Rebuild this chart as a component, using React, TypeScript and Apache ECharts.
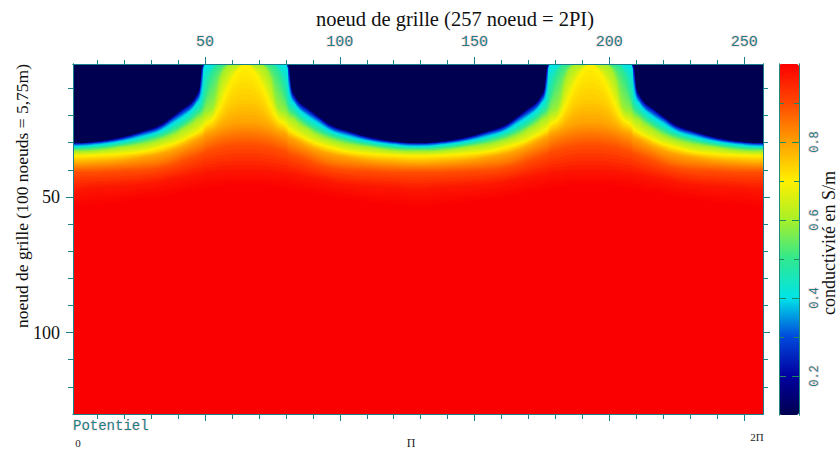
import React, { useEffect, useRef } from "react";
import * as echarts from "echarts";

const nodeColumns = [1,10,19,27,33,38,42,45,47,48,49,50,53,56,59,62,65,68,71,74,77,80,81,82,83,85,88,92,97,103,111,120,129,138,147,155,161,166,170,173,175,176,177,178,181,184,187,190,193,196,199,202,205,208,209,210,211,213,216,220,225,231,239,248,257];

const iso015 = [30.3,29.5,28.0,25.8,23.6,20.3,17.3,15.1,12.1,9.9,1,1,1,1,1,1,1,1,1,1,1,1,1,9.9,12.1,15.1,17.3,20.3,23.6,25.8,28.0,29.5,30.3,29.5,28.0,25.8,23.6,20.3,17.3,15.1,12.1,9.9,1,1,1,1,1,1,1,1,1,1,1,1,1,9.9,12.1,15.1,17.3,20.3,23.6,25.8,28.0,29.5,30.3];
const iso025 = [30.4,29.9,28.4,26.2,24.3,21.0,18.0,15.8,13.2,11.0,3.2,1,1,1,1,1,1,1,1,1,1,1,3.2,11.0,13.2,15.8,18.0,21.0,24.3,26.2,28.4,29.9,30.4,29.9,28.4,26.2,24.3,21.0,18.0,15.8,13.2,11.0,3.2,1,1,1,1,1,1,1,1,1,1,1,3.2,11.0,13.2,15.8,18.0,21.0,24.3,26.2,28.4,29.9,30.4];
const iso030 = [30.6,30.1,28.8,26.6,24.7,21.4,18.8,16.6,14.0,12.1,5.4,1,1,1,1,1,1,1,1,1,1,1,5.4,12.1,14.0,16.6,18.8,21.4,24.7,26.6,28.8,30.1,30.6,30.1,28.8,26.6,24.7,21.4,18.8,16.6,14.0,12.1,5.4,1,1,1,1,1,1,1,1,1,1,1,5.4,12.1,14.0,16.6,18.8,21.4,24.7,26.6,28.8,30.1,30.6];
const iso035 = [31.0,30.4,29.1,27.1,25.3,22.1,19.5,17.3,14.7,12.9,7.7,1,1,1,1,1,1,1,1,1,1,1,7.7,12.9,14.7,17.3,19.5,22.1,25.3,27.1,29.1,30.4,31.0,30.4,29.1,27.1,25.3,22.1,19.5,17.3,14.7,12.9,7.7,1,1,1,1,1,1,1,1,1,1,1,7.7,12.9,14.7,17.3,19.5,22.1,25.3,27.1,29.1,30.4,31.0];
const iso040 = [31.4,30.8,29.5,27.7,25.8,22.9,20.3,18.0,15.4,14.3,10.6,1,1,1,1,1,1,1,1,1,1,1,10.6,14.3,15.4,18.0,20.3,22.9,25.8,27.7,29.5,30.8,31.4,30.8,29.5,27.7,25.8,22.9,20.3,18.0,15.4,14.3,10.6,1,1,1,1,1,1,1,1,1,1,1,10.6,14.3,15.4,18.0,20.3,22.9,25.8,27.7,29.5,30.8,31.4];
const iso050 = [32.1,31.7,30.6,28.9,27.3,25.1,22.9,20.6,18.8,18.0,16.6,12.9,3.2,1,1,1,1,1,1,1,3.2,12.9,16.6,18.0,18.8,20.6,22.9,25.1,27.3,28.9,30.6,31.7,32.1,31.7,30.6,28.9,27.3,25.1,22.9,20.6,18.8,18.0,16.6,12.9,3.2,1,1,1,1,1,1,1,3.2,12.9,16.6,18.0,18.8,20.6,22.9,25.1,27.3,28.9,30.6,31.7,32.1];
const iso060 = [33.2,32.9,31.7,30.6,29.1,27.3,24.9,23.2,21.4,21.0,20.3,19.1,16.9,5.4,1,1,1,1,1,5.4,16.9,19.1,20.3,21.0,21.4,23.2,24.9,27.3,29.1,30.6,31.7,32.9,33.2,32.9,31.7,30.6,29.1,27.3,24.9,23.2,21.4,21.0,20.3,19.1,16.9,5.4,1,1,1,1,1,5.4,16.9,19.1,20.3,21.0,21.4,23.2,24.9,27.3,29.1,30.6,31.7,32.9,33.2];
const iso070 = [34.7,34.5,34.0,33.2,31.7,30.3,28.8,27.3,26.2,25.4,24.7,23.2,21.0,15.4,8.4,3.2,1,3.2,8.4,15.4,21.0,23.2,24.7,25.4,26.2,27.3,28.8,30.3,31.7,33.2,34.0,34.5,34.7,34.5,34.0,33.2,31.7,30.3,28.8,27.3,26.2,25.4,24.7,23.2,21.0,15.4,8.4,3.2,1,3.2,8.4,15.4,21.0,23.2,24.7,25.4,26.2,27.3,28.8,30.3,31.7,33.2,34.0,34.5,34.7];
const iso075 = [36.2,35.8,35.3,34.3,33.2,31.6,29.9,28.4,27.5,26.9,26.6,25.1,23.6,20.3,16.6,14.7,14.3,14.7,16.6,20.3,23.6,25.1,26.6,26.9,27.5,28.4,29.9,31.6,33.2,34.3,35.3,35.8,36.2,35.8,35.3,34.3,33.2,31.6,29.9,28.4,27.5,26.9,26.6,25.1,23.6,20.3,16.6,14.7,14.3,14.7,16.6,20.3,23.6,25.1,26.6,26.9,27.5,28.4,29.9,31.6,33.2,34.3,35.3,35.8,36.2];
const iso080 = [37.7,37.3,36.6,35.4,34.3,32.9,31.4,29.9,28.8,28.4,28.0,26.9,25.8,24.3,23.2,22.5,22.5,22.5,23.2,24.3,25.8,26.9,28.0,28.4,28.8,29.9,31.4,32.9,34.3,35.4,36.6,37.3,37.7,37.3,36.6,35.4,34.3,32.9,31.4,29.9,28.8,28.4,28.0,26.9,25.8,24.3,23.2,22.5,22.5,22.5,23.2,24.3,25.8,26.9,28.0,28.4,28.8,29.9,31.4,32.9,34.3,35.4,36.6,37.3,37.7];
const iso085 = [39.3,39.1,38.6,38.0,37.3,35.8,34.0,32.9,32.1,31.7,31.4,30.3,29.1,28.0,27.3,26.9,26.6,26.9,27.3,28.0,29.1,30.3,31.4,31.7,32.1,32.9,34.0,35.8,37.3,38.0,38.6,39.1,39.3,39.1,38.6,38.0,37.3,35.8,34.0,32.9,32.1,31.7,31.4,30.3,29.1,28.0,27.3,26.9,26.6,26.9,27.3,28.0,29.1,30.3,31.4,31.7,32.1,32.9,34.0,35.8,37.3,38.0,38.6,39.1,39.3];
const iso090 = [41.0,41.0,40.6,40.3,39.5,38.4,36.9,35.8,35.1,34.7,34.3,33.6,32.9,31.9,31.4,31.0,31.0,31.0,31.4,31.9,32.9,33.6,34.3,34.7,35.1,35.8,36.9,38.4,39.5,40.3,40.6,41.0,41.0,41.0,40.6,40.3,39.5,38.4,36.9,35.8,35.1,34.7,34.3,33.6,32.9,31.9,31.4,31.0,31.0,31.0,31.4,31.9,32.9,33.6,34.3,34.7,35.1,35.8,36.9,38.4,39.5,40.3,40.6,41.0,41.0];
const iso097 = [46.9,46.2,45.8,45.1,44.3,43.2,42.5,41.7,41.4,41.2,41.0,40.6,40.3,39.9,39.7,39.5,39.5,39.5,39.7,39.9,40.3,40.6,41.0,41.2,41.4,41.7,42.5,43.2,44.3,45.1,45.8,46.2,46.9,46.2,45.8,45.1,44.3,43.2,42.5,41.7,41.4,41.2,41.0,40.6,40.3,39.9,39.7,39.5,39.5,39.5,39.7,39.9,40.3,40.6,41.0,41.2,41.4,41.7,42.5,43.2,44.3,45.1,45.8,46.2,46.9];
const iso100 = [53.2,52.5,51.7,50.6,49.9,48.8,48.0,47.7,47.3,47.1,46.9,46.6,46.2,45.8,45.4,45.4,45.4,45.4,45.4,45.8,46.2,46.6,46.9,47.1,47.3,47.7,48.0,48.8,49.9,50.6,51.7,52.5,53.2,52.5,51.7,50.6,49.9,48.8,48.0,47.7,47.3,47.1,46.9,46.6,46.2,45.8,45.4,45.4,45.4,45.4,45.4,45.8,46.2,46.6,46.9,47.1,47.3,47.7,48.0,48.8,49.9,50.6,51.7,52.5,53.2];

const isoLevels = [0.15, 0.25, 0.3, 0.35, 0.4, 0.5, 0.6, 0.7, 0.75, 0.8, 0.85, 0.9, 0.97, 1];
const isoDepths = [iso015, iso025, iso030, iso035, iso040, iso050, iso060, iso070, iso075, iso080, iso085, iso090, iso097, iso100];

const jetStops = ["#000050", "#0000a0", "#0048dc", "#00e4e8", "#30e890", "#a8f028", "#fff000", "#ffa000", "#ff4800", "#fb0000"];
const topTicksMajor = [50, 100, 150, 200, 250];
const topTicksMinor = [10, 20, 30, 40, 60, 70, 80, 90, 110, 120, 130, 140, 160, 170, 180, 190, 210, 220, 230, 240];
const sideTicksMajor = [50, 100];
const sideTicksMinor = [10, 20, 30, 40, 60, 70, 80, 90, 110, 120];
const barTicksMajor = [0.2, 0.4, 0.6, 0.8];
const barTicksMinor = [0.3, 0.5, 0.7, 0.9];

const TEAL = "#17808a";
const SERIF = '"Liberation Serif", serif';
const MONO = '"Liberation Mono", monospace';
const V_MIN = 0.1;
const V_MAX = 1;
const D_MAX = 130;
const SUB = 6;

const colorAt = (v: number) => echarts.color.lerp((v - V_MIN) / (V_MAX - V_MIN), jetStops) as string;

const axisStyle = { lineStyle: { color: TEAL, width: 1 } };
const tealLabel = {
  color: "#178088",
  fontFamily: MONO,
  textBorderColor: "rgba(255,190,190,0.55)",
  textBorderWidth: 1.5,
};

function plotAxis(position: string, customValues: number[], length: number, extra: any = {}) {
  const horizontal = position === "top" || position === "bottom";
  return {
    type: "value",
    gridIndex: 0,
    position,
    min: 1,
    max: horizontal ? 257 : D_MAX,
    inverse: !horizontal,
    z: 5,
    splitLine: { show: false },
    axisLine: { show: true, onZero: false, ...axisStyle },
    axisTick: { show: true, inside: false, length, customValues, ...axisStyle },
    axisLabel: { show: false },
    ...extra,
  };
}

function barAxis(position: string, customValues: number[], length: number, extra: any = {}) {
  return {
    type: "value",
    gridIndex: 1,
    position,
    min: V_MIN,
    max: V_MAX,
    z: 6,
    splitLine: { show: false },
    axisLine: { show: true, onZero: false, lineStyle: { color: "#1f8a80", width: 1 } },
    axisTick: { show: true, inside: true, length, customValues, lineStyle: { color: "#1f8a60", width: 1 } },
    axisLabel: { show: false },
    ...extra,
  };
}

export default function App() {
  const ref = useRef<HTMLDivElement>(null);
  useEffect(() => {
    const chart = echarts.init(ref.current!, null, { renderer: "svg" });
    const renderItem = (_p: any, api: any) => {
      const index = api.value(1);
      const depths = isoDepths[index];
      const prevDepths = index > 0 ? isoDepths[index - 1] : depths;
      const level = isoLevels[index];
      const prevLevel = index > 0 ? isoLevels[index - 1] : level;
      const steps = index > 0 ? SUB : 1;
      const children: any[] = [];
      for (let k = 1; k <= steps; k++) {
        const t = k / steps;
        const line = nodeColumns.map((col, c) => [col, prevDepths[c] + (depths[c] - prevDepths[c]) * t]);
        const first = line[0];
        const last = line[line.length - 1];
        const outline = [
          [-30, first[1]],
          ...line,
          [287, last[1]],
          [287, D_MAX + 30],
          [-30, D_MAX + 30],
        ];
        children.push({
          type: "polygon",
          shape: { points: outline.map((p) => api.coord(p)), smooth: 0.4 },
          style: { fill: colorAt(prevLevel + (level - prevLevel) * t), stroke: null },
        });
      }
      return { type: "group", children };
    };

    chart.setOption({
      animation: false,
      backgroundColor: "#ffffff",
      grid: [
        { left: 73, top: 64, width: 690, height: 350, show: true, backgroundColor: jetStops[0], borderWidth: 0 },
        { left: 779, top: 64, width: 20, height: 351, show: false },
      ],
      xAxis: [
        plotAxis("top", topTicksMajor, 7, {
          axisLabel: { show: true, customValues: topTicksMajor, margin: 14, fontSize: 15, ...tealLabel },
        }),
        plotAxis("top", topTicksMinor, 4),
        plotAxis("bottom", topTicksMajor, 7),
        plotAxis("bottom", topTicksMinor, 5),
        { type: "value", gridIndex: 1, min: 0, max: 1, show: false },
      ],
      yAxis: [
        plotAxis("left", sideTicksMajor, 7, {
          axisLabel: { show: true, customValues: sideTicksMajor, margin: 13, fontSize: 18, color: "#111", fontFamily: SERIF },
        }),
        plotAxis("left", sideTicksMinor, 5),
        plotAxis("right", sideTicksMajor, 7),
        plotAxis("right", sideTicksMinor, 5),
        barAxis("right", barTicksMajor, 7, {
          axisLabel: { show: true, customValues: barTicksMajor, rotate: 90, margin: 10, fontSize: 12, ...tealLabel },
        }),
        barAxis("right", barTicksMinor, 5),
        barAxis("left", barTicksMajor, 7),
        barAxis("left", barTicksMinor, 5),
      ],
      visualMap: {
        type: "continuous",
        show: true,
        seriesIndex: 0,
        dimension: 0,
        min: V_MIN,
        max: V_MAX,
        left: 779,
        top: 64,
        padding: 0,
        itemWidth: 20,
        itemHeight: 351,
        calculable: false,
        hoverLink: false,
        inRange: { color: jetStops },
      },
      series: [
        {
          type: "custom",
          xAxisIndex: 0,
          yAxisIndex: 0,
          clip: true,
          silent: true,
          z: 2,
          renderItem,
          data: isoLevels.map((level, i) => [level, i]),
        },
      ],
      graphic: [
        { type: "text", x: 455, y: 19, style: { text: "noeud de grille (257 noeud = 2PI)", align: "center", verticalAlign: "middle", font: `20.5px ${SERIF}`, fill: "#111" } },
        { type: "text", x: 22, y: 196, rotation: Math.PI / 2, style: { text: "noeud de grille (100 noeuds = 5,75m)", align: "center", verticalAlign: "middle", font: `17.5px ${SERIF}`, fill: "#111" } },
        { type: "text", x: 829, y: 243, rotation: Math.PI / 2, style: { text: "conductivité en S/m", align: "center", verticalAlign: "middle", font: `18px ${SERIF}`, fill: "#111" } },
        { type: "text", x: 73, y: 426, style: { text: "Potentiel", align: "left", verticalAlign: "middle", font: `14px ${MONO}`, fill: "#178088", stroke: "rgba(255,190,190,0.55)", lineWidth: 1 } },
        { type: "text", x: 78, y: 443, style: { text: "0", align: "center", verticalAlign: "middle", font: `11px ${SERIF}`, fill: "#222" } },
        { type: "text", x: 411, y: 443, style: { text: "Π", align: "center", verticalAlign: "middle", font: `12px ${SERIF}`, fill: "#222" } },
        { type: "text", x: 757, y: 437, style: { text: "2Π", align: "center", verticalAlign: "middle", font: `11px ${SERIF}`, fill: "#222" } },
      ],
    });
    return () => chart.dispose();
  }, []);
  return <div ref={ref} style={{ position: "absolute", left: 0, top: 0, width: 838, height: 450 }} />;
}
